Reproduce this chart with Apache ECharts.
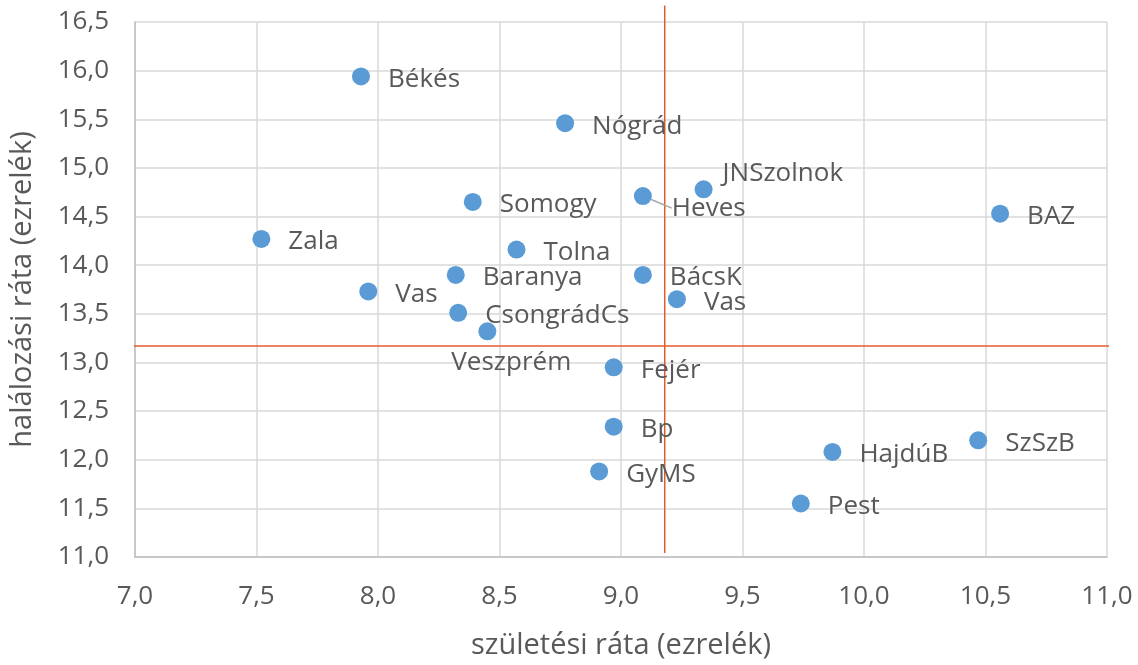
<!DOCTYPE html>
<html>
<head>
<meta charset="utf-8">
<script src="https://cdn.jsdelivr.net/npm/echarts@6/dist/echarts.min.js"></script>
<style>
  html, body { margin: 0; padding: 0; background: #fff; }
  #main { width: 1138px; height: 665px; }
</style>
</head>
<body>
<div id="main"></div>
<script>
// megyék
var megyek = ['Békés', 'Nógrád', 'JNSzolnok', 'Heves', 'Somogy', 'BAZ', 'Zala', 'Tolna', 'Baranya', 'BácsK',
              'Vas', 'Vas', 'CsongrádCs', 'Veszprém', 'Fejér', 'Bp', 'GyMS', 'HajdúB', 'Pest', 'SzSzB'];
// születési ráta (ezrelék)
var szuletes = [7.93, 8.77, 9.34, 9.09, 8.39, 10.56, 7.52, 8.57, 8.32, 9.09,
                7.96, 9.23, 8.33, 8.45, 8.97, 8.97, 8.91, 9.87, 9.74, 10.47];
// halálozási ráta (ezrelék)
var halalozas = [15.94, 15.46, 14.78, 14.71, 14.65, 14.53, 14.27, 14.16, 13.90, 13.90,
                 13.73, 13.65, 13.51, 13.32, 12.95, 12.34, 11.88, 12.08, 11.55, 12.20];

// átlagok (a piros vonalak)
var atlagSzul = 9.18;
var atlagHal = 13.17;
var fuggVonal = [16.67, 11.04];   // függőleges vonal y végpontjai
var vizVonal = [6.5, 11.035];     // vízszintes vonal x végpontjai

// tengely
var xMin = 7, xMax = 11, yMin = 11, yMax = 16.5, lepes = 0.5;

// címkék eltolása (csak néhánynál)
var cimkeEltolas = {
  'JNSzolnok': [-8, -16],
  'Heves': [2, 12],
  'Veszprém': [-63, 31]
};

var pontok = [];
for (var i = 0; i < megyek.length; i++) {
  var p = { name: megyek[i], value: [szuletes[i], halalozas[i]] };
  if (megyek[i] == 'Heves') {
    p.labelLine = { show: true, lineStyle: { color: '#a6a6a6', width: 1.5 } };
  }
  pontok.push(p);
}

function tizedes(v) {
  return v.toFixed(1).replace('.', ',');
}

var szoveg = '#595959';
var betu = 'Open Sans';

var chart = echarts.init(document.getElementById('main'));
option = {
  animation: false,
  textStyle: { fontFamily: betu },
  grid: { left: 134.5, right: 31, top: 22, bottom: 105, containLabel: false },
  xAxis: {
    type: 'value',
    min: xMin, max: xMax, interval: lepes,
    name: 'születési ráta (ezrelék)',
    nameLocation: 'middle',
    nameGap: 74,
    nameTextStyle: { color: szoveg, fontSize: 29, fontFamily: betu },
    axisLine: { show: true, lineStyle: { color: '#bfbfbf', width: 1.5 } },
    axisTick: { show: false },
    axisLabel: { color: szoveg, fontSize: 26, margin: 27, formatter: tizedes, fontFamily: betu },
    splitLine: { show: true, lineStyle: { color: '#d9d9d9', width: 1.5 } }
  },
  yAxis: {
    type: 'value',
    min: yMin, max: yMax, interval: lepes,
    name: 'halálozási ráta (ezrelék)',
    nameLocation: 'middle',
    nameGap: 98,
    nameTextStyle: { color: szoveg, fontSize: 29, fontFamily: betu },
    axisLine: { show: true, lineStyle: { color: '#bfbfbf', width: 1.5 } },
    axisTick: { show: false },
    axisLabel: { color: szoveg, fontSize: 26, margin: 26, formatter: tizedes, fontFamily: betu },
    splitLine: { show: true, lineStyle: { color: '#d9d9d9', width: 1.5 } }
  },
  series: [
    {
      type: 'line',
      clip: false,
      silent: true,
      symbol: 'none',
      lineStyle: { color: '#e35b2d', width: 1.5 },
      data: [[atlagSzul, fuggVonal[0]], [atlagSzul, fuggVonal[1]]],
      z: 3
    },
    {
      type: 'line',
      clip: false,
      silent: true,
      symbol: 'none',
      lineStyle: { color: '#e35b2d', width: 1.5 },
      data: [[vizVonal[0], atlagHal], [vizVonal[1], atlagHal]],
      z: 3
    },
    {
      type: 'scatter',
      symbolSize: 18,
      itemStyle: { color: '#5b9bd5', opacity: 1 },
      label: {
        show: true,
        position: 'right',
        distance: 18,
        formatter: '{b}',
        color: szoveg,
        fontSize: 26,
        fontFamily: betu
      },
      labelLayout: function (params) {
        var e = cimkeEltolas[megyek[params.dataIndex]];
        if (e) return { dx: e[0], dy: e[1] };
        return { dx: 0, dy: 3 };
      },
      data: pontok,
      z: 5
    }
  ]
};
chart.setOption(option);
</script>
</body>
</html>
